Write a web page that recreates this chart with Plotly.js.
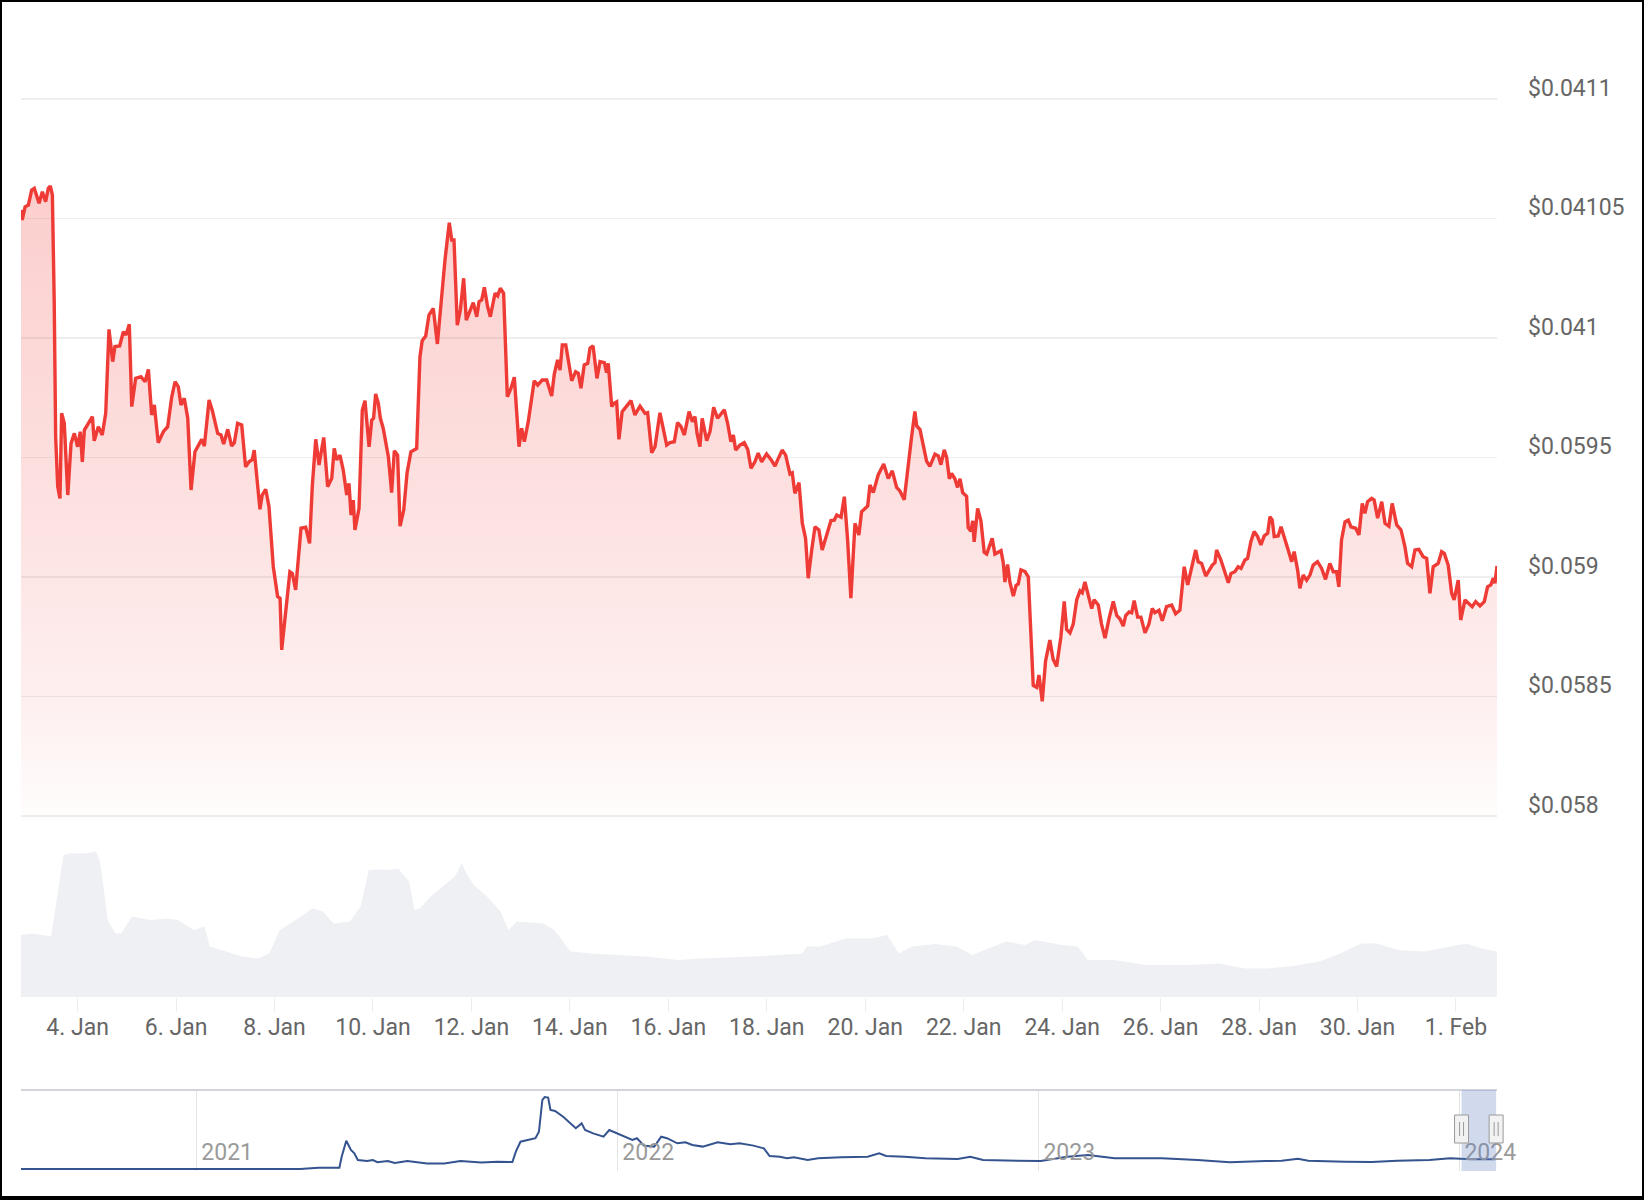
<!DOCTYPE html>
<html>
<head>
<meta charset="utf-8">
<script src="https://cdn.plot.ly/plotly-3.0.1.min.js"></script>
<style>
  html, body { margin: 0; padding: 0; background: #ffffff; }
  #chart { width: 1644px; height: 1200px; }
</style>
</head>
<body>
<div id="chart"></div>
<script>
// ---------------- DATA ----------------
// Hourly price series: hours relative to 4 Jan 2024 00:00 and USD price
const priceHours = [
-27.6,-27.0,-25.6,-24.0,-22.4,-21.1,-18.8,-17.2,-15.6,-14.3,
-13.3,-12.3,-11.4,-10.7,-9.7,-8.6,-7.8,-6.5,-4.8,-3.2,
-1.6,0.0,1.3,2.3,3.3,4.9,7.2,8.1,10.1,12.0,
13.7,15.3,17.1,18.2,20.5,22.3,23.6,25.2,26.4,28.3,
30.9,32.9,34.5,36.1,37.4,39.3,41.8,43.9,45.9,47.5,
49.1,50.4,52.0,53.7,55.3,57.2,59.2,60.5,61.8,64.1,
65.7,68.3,69.9,71.2,73.2,75.1,76.4,78.0,80.0,81.9,
83.6,85.2,86.1,88.9,90.0,91.7,93.3,95.4,97.5,98.7,
99.5,101.4,103.5,104.7,106.3,108.9,111.2,113.1,114.4,116.1,
117.7,120.0,121.9,123.9,125.1,126.3,127.9,129.5,131.2,132.3,
133.3,134.4,135.2,137.2,138.8,140.1,142.1,143.4,144.3,145.3,
146.6,147.6,149.0,151.5,153.1,154.4,156.0,157.2,159.0,160.6,
162.5,165.3,166.9,168.0,169.7,171.3,173.4,175.4,177.5,179.1,
181.2,182.4,183.5,185.1,186.6,188.2,189.5,191.3,192.9,194.6,
195.7,197.0,198.3,199.9,201.2,203.5,204.8,206.1,207.7,209.5,
211.3,212.9,215.2,216.5,217.8,219.7,222.6,224.3,226.5,228.7,
231.1,232.4,234.0,235.2,236.3,238.0,240.9,242.8,244.1,245.4,
247.0,248.7,249.8,251.3,253.2,254.7,256.8,257.9,258.7,260.4,
261.6,262.8,263.9,265.5,267.7,269.8,271.7,274.2,276.6,277.9,
279.9,281.5,283.9,285.5,287.2,288.8,290.9,292.5,294.2,295.8,
298.1,299.7,301.0,302.0,303.4,304.5,306.7,308.3,310.1,312.0,
315.3,316.9,318.5,319.7,320.8,322.9,325.0,326.7,328.3,330.2,
331.8,333.5,335.9,338.0,340.0,341.3,343.5,345.2,347.3,348.4,
349.7,351.7,353.3,354.9,356.2,357.9,359.5,361.4,363.0,365.7,
367.3,368.9,370.1,372.2,373.8,375.4,377.0,379.0,380.9,382.2,
385.2,386.3,387.9,390.3,391.7,393.0,395.2,397.2,399.3,400.9,
403.0,404.7,406.6,408.2,409.1,410.7,412.3,413.9,415.5,418.0,
419.6,420.9,422.5,423.7,425.0,426.1,427.7,429.0,430.2,431.5,
433.4,434.2,435.5,436.4,437.1,438.8,440.4,442.0,443.2,444.8,
445.9,447.2,448.8,450.2,451.3,452.1,453.4,454.5,456.2,457.5,
458.6,459.9,461.9,463.5,465.9,467.6,468.7,470.3,471.9,474.0,
475.6,477.3,479.4,481.0,482.2,483.8,485.4,487.1,488.7,489.8,
491.1,492.7,494.4,495.6,497.6,499.2,500.9,502.8,504.9,506.6,
508.2,509.8,511.0,512.6,513.9,515.1,516.8,518.4,520.4,522.3,
523.9,525.2,527.2,528.8,530.9,533.4,535.3,537.4,539.5,541.2,
543.1,545.1,546.3,548.0,550.0,551.6,553.2,554.5,555.3,557.4,
559.4,561.0,562.3,564.2,565.8,567.2,569.1,570.4,572.0,573.6,
575.3,576.9,578.5,580.2,581.3,582.4,583.4,585.3,586.7,588.3,
590.2,591.9,593.1,594.8,595.9,597.5,599.2,600.8,602.4,604.5,
606.5,608.4,610.5,612.2,613.8,614.9,616.2,617.9,619.5,620.8,
623.1,624.7,626.3,627.6,628.9,630.9,632.1,633.8,635.8,637.4,
639.3,640.9,643.1,645.2,647.1,648.4,650.4,652.0,653.9,656.0,
657.7,659.3,660.9,663.3,665.0,666.3,668.2,669.9,671.1,673.1,
674.3,676.4,678.0,679.9,681.6,683.7,685.8,687.4,689.0,690.2,
691.0,692.0
];
const priceValues = [
0.060536,0.060494,0.060549,0.060556,0.060619,0.060626,0.060564,0.060612,0.060570,0.060626,
0.060636,0.060598,0.060146,0.059587,0.059378,0.059329,0.059685,0.059643,0.059343,0.059559,
0.059601,0.059545,0.059608,0.059482,0.059615,0.059636,0.059671,0.059570,0.059629,0.059594,
0.059685,0.060036,0.059901,0.059964,0.059967,0.060026,0.060013,0.060057,0.059713,0.059831,
0.059838,0.059817,0.059869,0.059678,0.059720,0.059562,0.059608,0.059629,0.059754,0.059817,
0.059796,0.059720,0.059748,0.059664,0.059364,0.059524,0.059552,0.059576,0.059548,0.059741,
0.059696,0.059601,0.059594,0.059556,0.059618,0.059548,0.059562,0.059643,0.059636,0.059461,
0.059482,0.059492,0.059531,0.059283,0.059343,0.059367,0.059294,0.059043,0.058918,0.058911,
0.058695,0.058862,0.059022,0.059015,0.058946,0.059204,0.059208,0.059141,0.059378,0.059576,
0.059469,0.059584,0.059378,0.059413,0.059538,0.059490,0.059510,0.059448,0.059343,0.059392,
0.059259,0.059322,0.059197,0.059287,0.059699,0.059738,0.059545,0.059657,0.059664,0.059766,
0.059727,0.059664,0.059622,0.059503,0.059353,0.059528,0.059510,0.059213,0.059280,0.059434,
0.059524,0.059538,0.059922,0.059989,0.060008,0.060096,0.060124,0.059975,0.060180,0.060326,
0.060482,0.060410,0.060410,0.060054,0.060117,0.060250,0.060075,0.060110,0.060148,0.060089,
0.060152,0.060159,0.060212,0.060131,0.060089,0.060187,0.060176,0.060208,0.060187,0.059754,
0.059790,0.059836,0.059545,0.059622,0.059566,0.059650,0.059821,0.059803,0.059824,0.059824,
0.059757,0.059849,0.059908,0.059866,0.059971,0.059971,0.059821,0.059859,0.059852,0.059790,
0.059887,0.059894,0.059957,0.059967,0.059831,0.059901,0.059897,0.059855,0.059894,0.059713,
0.059727,0.059733,0.059576,0.059692,0.059713,0.059738,0.059678,0.059715,0.059685,0.059688,
0.059520,0.059545,0.059687,0.059615,0.059552,0.059562,0.059566,0.059646,0.059629,0.059594,
0.059692,0.059650,0.059671,0.059601,0.059545,0.059664,0.059570,0.059608,0.059710,0.059664,
0.059699,0.059643,0.059566,0.059594,0.059531,0.059552,0.059562,0.059534,0.059455,0.059482,
0.059518,0.059482,0.059515,0.059492,0.059464,0.059490,0.059531,0.059510,0.059431,0.059436,
0.059350,0.059395,0.059225,0.059162,0.058995,0.059113,0.059210,0.059197,0.059113,0.059190,
0.059236,0.059238,0.059259,0.059250,0.059336,0.059155,0.058911,0.059225,0.059176,0.059273,
0.059297,0.059385,0.059353,0.059427,0.059448,0.059473,0.059412,0.059444,0.059375,0.059360,
0.059323,0.059456,0.059587,0.059693,0.059632,0.059617,0.059558,0.059485,0.059463,0.059514,
0.059507,0.059470,0.059532,0.059500,0.059411,0.059433,0.059411,0.059375,0.059411,0.059353,
0.059338,0.059206,0.059191,0.059235,0.059147,0.059287,0.059235,0.059103,0.059096,0.059133,
0.059162,0.059096,0.059103,0.059110,0.059059,0.058979,0.059052,0.058979,0.058920,0.058964,
0.058971,0.059030,0.059023,0.059000,0.058546,0.058538,0.058590,0.058480,0.058648,0.058736,
0.058656,0.058626,0.058751,0.058898,0.058780,0.058766,0.058803,0.058905,0.058942,0.058934,
0.058979,0.058920,0.058868,0.058905,0.058883,0.058803,0.058744,0.058824,0.058898,0.058839,
0.058824,0.058795,0.058839,0.058854,0.058850,0.058901,0.058832,0.058832,0.058766,0.058803,
0.058868,0.058851,0.058861,0.058817,0.058876,0.058883,0.058846,0.058861,0.059043,0.058967,
0.059043,0.059113,0.059064,0.059057,0.059004,0.059029,0.059050,0.059060,0.059113,0.059071,
0.059015,0.058976,0.059015,0.059022,0.059043,0.059036,0.059071,0.059078,0.059148,0.059190,
0.059169,0.059134,0.059172,0.059183,0.059252,0.059238,0.059169,0.059172,0.059210,0.059169,
0.059113,0.059064,0.059106,0.059029,0.058953,0.059008,0.058987,0.059008,0.059050,0.059064,
0.059036,0.058990,0.059057,0.059022,0.059022,0.058959,0.059155,0.059231,0.059238,0.059210,
0.059204,0.059176,0.059308,0.059266,0.059315,0.059329,0.059322,0.059246,0.059315,0.059225,
0.059213,0.059308,0.059218,0.059197,0.059127,0.059057,0.059043,0.059113,0.059116,0.059085,
0.059078,0.058932,0.059043,0.059057,0.059106,0.059099,0.059050,0.058932,0.058904,0.058987,
0.058820,0.058904,0.058890,0.058876,0.058897,0.058879,0.058897,0.058959,0.058967,0.058995,
0.058974,0.059046
];

// Trading volume (USD millions), hours relative to 4 Jan 2024 00:00
const volumeHours = [
-27.6,-22.1,-12.9,-10.3,-6.9,-3.7,4.1,8.9,10.7,12.0,14.6,18.6,21.2,26.5,35.6,43.5,48.8,56.6,61.9,64.5,
72.3,80.2,88.1,93.4,98.6,109.1,114.4,119.6,124.8,132.7,138.0,141.9,145.8,151.1,156.3,161.6,164.2,166.8,172.1,179.9,
183.9,187.3,189.1,193.1,199.6,206.2,210.1,214.1,227.2,232.4,240.3,250.8,263.9,277.0,292.8,303.3,329.5,353.1,355.7,361.9,
374.7,387.5,394.7,400.3,406.8,418.3,428.5,436.2,443.9,452.8,461.8,466.9,479.7,487.5,492.6,505.4,520.7,541.2,556.6,569.4,
579.7,592.5,605.3,615.5,625.8,633.5,643.7,656.6,669.3,677.0,684.7,692.0
];
const volumeValues = [
1.24,1.27,1.21,1.94,2.84,2.87,2.87,2.91,2.74,2.41,1.54,1.27,1.27,1.61,1.54,1.57,1.54,1.34,1.41,1.01,
0.91,0.81,0.77,0.87,1.34,1.61,1.77,1.71,1.47,1.51,1.81,2.54,2.55,2.54,2.57,2.31,1.74,1.77,2.01,2.27,
2.41,2.67,2.51,2.24,2.01,1.71,1.34,1.51,1.47,1.34,0.91,0.87,0.84,0.81,0.74,0.77,0.81,0.87,1.01,1.01,
1.17,1.17,1.24,0.87,1.01,1.06,1.01,0.84,0.97,1.11,1.04,1.14,1.04,1.01,0.74,0.74,0.64,0.64,0.67,0.57,
0.57,0.62,0.71,0.87,1.07,1.07,0.94,0.91,1.01,1.07,0.97,0.91
];

// Navigator: full price history
const navDates = [
'2020-08-02','2021-04-01','2021-04-17','2021-05-05','2021-05-07','2021-05-11','2021-05-15','2021-05-18','2021-05-21','2021-05-29',
'2021-06-03','2021-06-07','2021-06-16','2021-06-22','2021-07-03','2021-07-20','2021-08-04','2021-08-18','2021-09-05','2021-09-19',
'2021-10-02','2021-10-05','2021-10-09','2021-10-15','2021-10-22','2021-10-25','2021-10-28','2021-10-30','2021-11-02','2021-11-04',
'2021-11-08','2021-11-15','2021-11-21','2021-11-26','2021-12-01','2021-12-04','2021-12-11','2021-12-20','2021-12-25','2022-01-01',
'2022-01-08','2022-01-14','2022-01-18','2022-01-24','2022-02-02','2022-02-08','2022-02-13','2022-02-22','2022-03-01','2022-03-07',
'2022-03-16','2022-03-29','2022-04-09','2022-04-17','2022-04-29','2022-05-08','2022-05-13','2022-05-22','2022-05-28','2022-06-03',
'2022-06-15','2022-06-24','2022-07-14','2022-08-06','2022-08-16','2022-08-22','2022-09-07','2022-09-25','2022-10-23','2022-11-03',
'2022-11-14','2022-12-02','2023-01-03','2023-01-26','2023-02-13','2023-03-08','2023-04-18','2023-05-19','2023-06-16','2023-07-17',
'2023-07-31','2023-08-14','2023-08-23','2023-09-24','2023-10-17','2023-11-08','2023-12-06','2023-12-24','2024-01-11','2024-02-01'
];
const navValues = [
0.010,0.010,0.017,0.017,0.073,0.155,0.108,0.091,0.056,0.051,
0.056,0.045,0.051,0.041,0.051,0.039,0.039,0.051,0.043,0.048,
0.046,0.099,0.150,0.159,0.168,0.201,0.364,0.379,0.376,0.313,
0.308,0.278,0.244,0.219,0.244,0.210,0.193,0.176,0.210,0.193,
0.176,0.159,0.168,0.130,0.125,0.176,0.168,0.142,0.147,0.133,
0.125,0.147,0.137,0.142,0.130,0.116,0.077,0.073,0.065,0.070,
0.056,0.065,0.070,0.073,0.091,0.077,0.073,0.065,0.062,0.073,
0.056,0.053,0.051,0.073,0.082,0.065,0.065,0.056,0.045,0.051,
0.053,0.063,0.053,0.048,0.046,0.053,0.056,0.065,0.060,0.060
];

// Axis ticks as printed on the chart
const priceTickValues = [0.058, 0.0585, 0.059, 0.0595, 0.060, 0.0605, 0.061];
const priceTickLabels = ['$0.058', '$0.0585', '$0.059', '$0.0595', '$0.041', '$0.04105', '$0.0411'];

const viewStart = '2024-01-02 20:24';
const viewEnd = '2024-02-01 20:00';
const historyStart = '2020-08-02 00:00';
const historyEnd = '2024-02-02 14:00';

// ---------------- BUILD ----------------
const BASE = Date.UTC(2024, 0, 4);
const toDate = h => new Date(BASE + h * 3600000).toISOString().slice(0, 19).replace('T', ' ');
const priceTimes = priceHours.map(toDate);
const volumeTimes = volumeHours.map(toDate);
const toMs = s => { const p = s.split(' '); return Date.parse(p[0] + 'T' + (p[1] || '00:00') + ':00Z'); };

const FONT = 'Roboto, "Noto Sans", sans-serif';
const W = 1644, H = 1200;
const px = v => v / W;
const py = v => 1 - v / H;

const priceMin = 0.0579833, priceMax = 0.0613305;
const navDomain = [px(21), px(1497)];
// position of a date on the navigator axis, as a fraction of the page width
const navFrac = s => navDomain[0] + (toMs(s) - toMs(historyStart)) / (toMs(historyEnd) - toMs(historyStart)) * (navDomain[1] - navDomain[0]);

const traces = [
  {
    type: 'scatter', mode: 'lines', x: volumeTimes, y: volumeValues,
    xaxis: 'x', yaxis: 'y2', line: {width: 0, color: '#eef0f3'},
    fill: 'tozeroy', fillcolor: '#eef0f3', hoverinfo: 'skip'
  },
  {
    type: 'scatter', mode: 'lines', x: priceTimes, y: priceValues,
    xaxis: 'x', yaxis: 'y',
    line: {color: '#ef3b36', width: 3.4, shape: 'linear'},
    fill: 'tozeroy',
    fillgradient: {
      type: 'vertical', start: priceMin, stop: priceMax,
      colorscale: [
        [0, 'rgba(239,59,54,0.01)'],
        [0.15, 'rgba(239,59,54,0.08)'],
        [0.35, 'rgba(239,59,54,0.14)'],
        [1, 'rgba(239,59,54,0.30)']
      ]
    },
    hoverinfo: 'skip'
  },
  {
    type: 'scatter', mode: 'lines', x: navDates, y: navValues,
    xaxis: 'x3', yaxis: 'y3', line: {color: '#34538f', width: 2},
    hoverinfo: 'skip'
  }
];

const navMid = py(1129);
const shapes = [
  // navigator top outline
  {type: 'line', xref: 'paper', yref: 'paper', x0: px(21), x1: px(1497), y0: py(1090), y1: py(1090),
   line: {color: '#d2d6dc', width: 2}},
  // selected range mask
  {type: 'rect', xref: 'x3', yref: 'paper', x0: viewStart, x1: viewEnd, y0: py(1171), y1: py(1090),
   fillcolor: 'rgba(102,133,194,0.30)', line: {width: 0}, layer: 'above'},
];
[viewStart, viewEnd].forEach(anchor => {
  const ax = navFrac(anchor);
  shapes.push({type: 'rect', xref: 'paper', yref: 'paper', xsizemode: 'pixel', ysizemode: 'pixel',
    xanchor: ax, yanchor: navMid, x0: -7, x1: 7, y0: -14, y1: 14,
    fillcolor: '#f2f2f2', line: {color: '#999999', width: 1}, layer: 'above'});
  [-2, 2].forEach(dx => shapes.push({type: 'line', xref: 'paper', yref: 'paper', xsizemode: 'pixel', ysizemode: 'pixel',
    xanchor: ax, yanchor: navMid, x0: dx, x1: dx, y0: -7, y1: 7,
    line: {color: '#999999', width: 1}, layer: 'above'}));
});
// screenshot frame
shapes.push({type: 'rect', xref: 'paper', yref: 'paper', x0: 0, x1: 1, y0: 0, y1: 1,
  line: {color: '#000000', width: 4}, layer: 'above'});
shapes.push({type: 'rect', xref: 'paper', yref: 'paper', x0: 0, x1: 1, y0: 0, y1: 4 / H,
  fillcolor: '#000000', line: {width: 0}, layer: 'above'});

const layout = {
  width: W, height: H,
  margin: {l: 0, r: 0, t: 0, b: 0, pad: 0},
  paper_bgcolor: '#ffffff', plot_bgcolor: 'rgba(0,0,0,0)',
  showlegend: false,
  font: {family: FONT, color: '#666666'},
  xaxis: {
    type: 'date', domain: [px(21), px(1497)], range: [viewStart, viewEnd], anchor: 'y2',
    tickmode: 'linear', tick0: '2024-01-04', dtick: 2 * 86400000, tickformat: '%-d. %b',
    showgrid: false, zeroline: false, showline: false,
    ticks: 'outside', ticklen: 14, tickwidth: 1, tickcolor: '#ededed', ticklabelstandoff: -5,
    tickfont: {family: FONT, size: 23, color: '#666666'},
    fixedrange: true, automargin: false
  },
  yaxis: {
    domain: [py(820), py(20)], range: [priceMin, priceMax], anchor: 'x', side: 'right',
    tickmode: 'array', tickvals: priceTickValues, ticktext: priceTickLabels,
    showgrid: true, gridcolor: '#eeeeee', gridwidth: 1.5, zeroline: false, showline: false,
    ticks: '', ticklabelposition: 'outside top', ticklabelstandoff: 30, ticklabelshift: 5,
    tickfont: {family: FONT, size: 23, color: '#666666'},
    fixedrange: true, automargin: false
  },
  yaxis2: {
    domain: [py(997), py(847)], range: [0, 3], anchor: 'x',
    visible: false, showgrid: false, zeroline: false, fixedrange: true
  },
  xaxis3: {
    type: 'date', domain: navDomain, range: [historyStart, historyEnd], anchor: 'y3',
    tickmode: 'linear', tick0: '2021-01-01', dtick: 'M12', tickformat: '%Y',
    ticklabelposition: 'inside right', ticklabeloverflow: 'allow', ticklabelshift: 5,
    showgrid: true, gridcolor: '#e4e4e4', gridwidth: 1, zeroline: false, showline: false, ticks: '',
    tickfont: {family: FONT, size: 23, color: '#9a9a9a'},
    fixedrange: true, automargin: false
  },
  yaxis3: {
    domain: [py(1171), py(1091)], range: [0, 0.41], anchor: 'x3',
    visible: false, showgrid: false, zeroline: false, fixedrange: true
  },
  shapes: shapes
};

Plotly.newPlot('chart', traces, layout, {displayModeBar: false, staticPlot: true});
</script>
</body>
</html>
